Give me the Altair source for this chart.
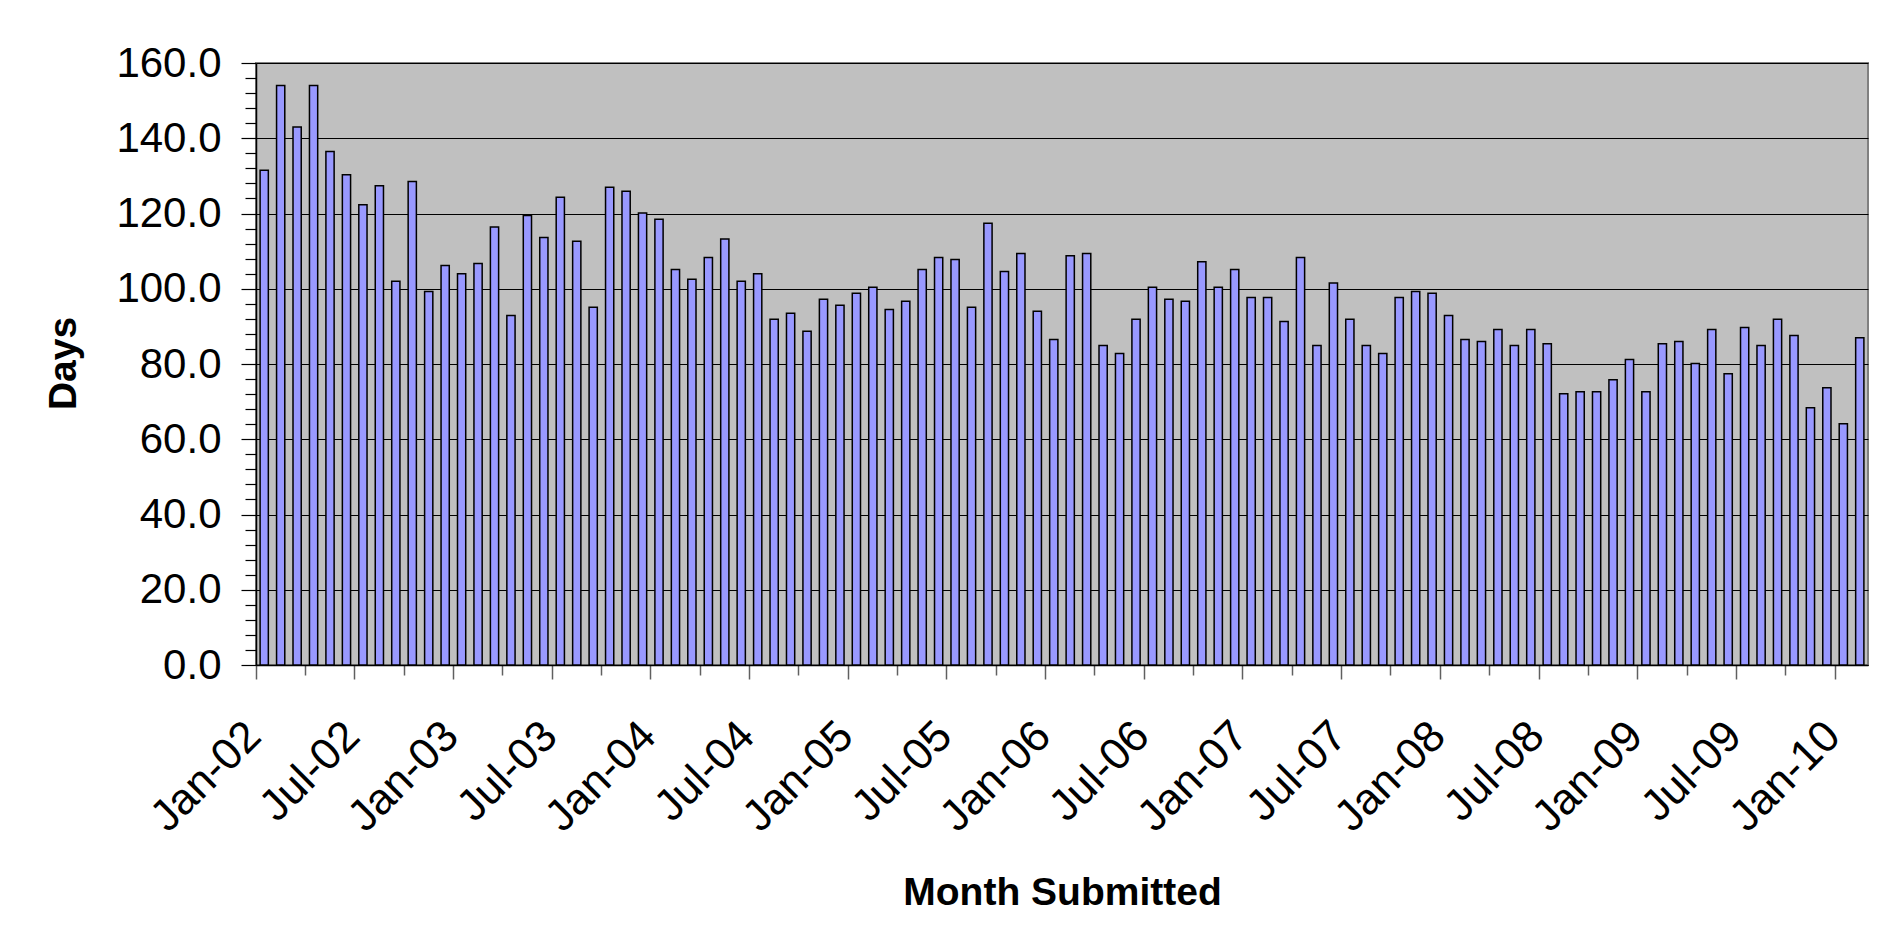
import altair as alt
import pandas as pd

MONTH_NAMES = ["Jan", "Feb", "Mar", "Apr", "May", "Jun",
               "Jul", "Aug", "Sep", "Oct", "Nov", "Dec"]
YEARS = ["02", "03", "04", "05", "06", "07", "08", "09", "10"]
MONTHS = [f"{m}-{y}" for y in YEARS for m in MONTH_NAMES][:98]

DAYS = [
    131.5, 154.0, 143.0, 154.0, 136.5, 130.3, 122.3, 127.4, 102.0, 128.5, 99.3, 106.2,   # 2002
    104.0, 106.7, 116.4, 92.9, 119.5, 113.6, 124.3, 112.6, 95.1, 127.0, 125.9, 120.1,    # 2003
    118.5, 105.1, 102.5, 108.3, 113.2, 102.0, 104.0, 91.9, 93.5, 88.7, 97.2, 95.6,       # 2004
    98.8, 100.4, 94.5, 96.7, 105.1, 108.3, 107.8, 95.1, 117.4, 104.6, 109.4, 94.0,       # 2005
    86.5, 108.8, 109.4, 84.9, 82.8, 91.9, 100.4, 97.2, 96.7, 107.2, 100.4, 105.1,        # 2006
    97.7, 97.7, 91.3, 108.3, 84.9, 101.5, 91.9, 84.9, 82.8, 97.7, 99.3, 98.8,            # 2007
    92.9, 86.5, 86.0, 89.2, 84.9, 89.2, 85.4, 72.1, 72.6, 72.6, 75.8, 81.2,              # 2008
    72.6, 85.4, 86.0, 80.1, 89.2, 77.4, 89.7, 84.9, 91.9, 87.6, 68.4, 73.7,              # 2009
    64.1, 87.0,                                                                           # 2010
]

Y_TICKS = list(range(0, 161, 4))
X_TICKS = MONTHS[::3]

FONT = "Liberation Sans"
LABELLED = "indexof(['Jan','Jul'], slice(datum.value, 0, 3)) >= 0"

df = pd.DataFrame({"month": MONTHS, "days": DAYS})

chart = alt.Chart(df).mark_bar(
    width=alt.RelativeBandSize(0.5),
    fill="#9999FF",
    stroke="#000000",
    strokeWidth=1.5,
).encode(
    x=alt.X(
        "month:N",
        sort=MONTHS,
        scale=alt.Scale(paddingInner=0, paddingOuter=0),
        axis=alt.Axis(
            title="Month Submitted",
            values=X_TICKS,
            bandPosition=0,
            labelAngle=-45,
            labelAlign="right",
            labelBaseline="middle",
            labelExpr=f"({LABELLED}) ? datum.value : ''",
            labelOverlap=False,
            labelFont=FONT,
            labelFontSize=44,
            labelColor="#000000",
            labelPadding=50,
            labelOffset=-10,
            tickSize={"condition": {"test": LABELLED, "value": 14}, "value": 10},
            tickColor="#606060",
            tickWidth=1.5,
            domainColor="#000000",
            domainWidth=1.5,
            grid=False,
            titleFont=FONT,
            titleFontSize=39,
            titleFontWeight="bold",
            titleColor="#000000",
            titleX=806,
            titleY=239,
            titleAlign="center",
            titleBaseline="alphabetic",
        ),
    ),
    y=alt.Y(
        "days:Q",
        scale=alt.Scale(domain=[0, 160], nice=False),
        axis=alt.Axis(
            title="Days",
            values=Y_TICKS,
            labelExpr="datum.value % 20 == 0 ? format(datum.value, '.1f') : ''",
            labelOverlap=False,
            labelFont=FONT,
            labelFontSize=42,
            labelColor="#000000",
            labelPadding=20,
            labelBaseline="middle",
            tickSize={"condition": {"test": "datum.value % 20 == 0", "value": 15}, "value": 11},
            tickColor="#000000",
            tickWidth=1.2,
            domainColor="#000000",
            domainWidth=1.5,
            grid=True,
            gridColor="#000000",
            gridWidth=1,
            gridOpacity={"condition": {"test": "datum.value % 20 == 0", "value": 1}, "value": 0},
            titleFont=FONT,
            titleFontSize=39,
            titleFontWeight="bold",
            titleColor="#000000",
            titleAngle=270,
            titleX=-181,
            titleY=300,
            titleAlign="center",
            titleBaseline="alphabetic",
        ),
    ),
).properties(
    width=1612,
    height=602,
    autosize=alt.AutoSizeParams(type="none"),
    padding={"left": 248, "top": 55, "right": 5, "bottom": 275},
    background="#FFFFFF",
).configure_view(
    fill="#C0C0C0",
    stroke="#808080",
    strokeWidth=2,
)

chart.save("out.html", embed_options={"renderer": "svg", "actions": False})
